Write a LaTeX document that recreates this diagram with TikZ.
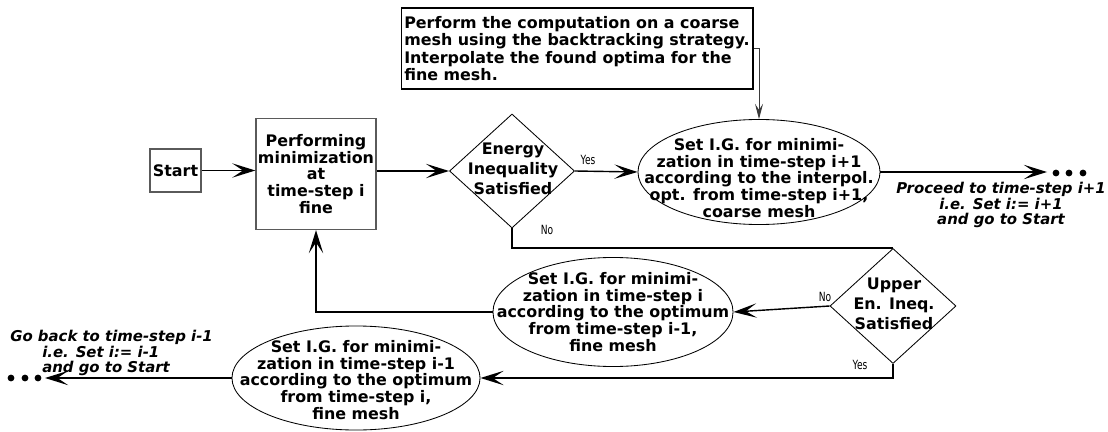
\documentclass[tikz,border=0pt]{standalone}
\usepackage{fontspec}
\setmainfont{DejaVu Sans}
\newfontfamily\narrowfont[FakeStretch=0.72]{DejaVu Sans}
\usetikzlibrary{shapes.geometric, arrows.meta, positioning}
\definecolor{FlowBlack}{HTML}{000000}
\definecolor{FlowGrey}{HTML}{5A5A5A}
\definecolor{FlowDark}{HTML}{3A3A3A}
\definecolor{FlowWhite}{HTML}{FFFFFF}
\tikzset{
    % Node styles
    stepbox/.style={
        rectangle,
        draw=FlowGrey,
        line width=0.9pt,
        inner sep=0pt,
        align=center,
        font=\bfseries\fontsize{11.3}{11.8}\selectfont
    },
    notebox/.style={
        rectangle,
        draw=FlowBlack,
        line width=0.8pt,
        inner sep=0.08cm,
        align=left,
        font=\bfseries\fontsize{11.3}{12.4}\selectfont
    },
    decision/.style={
        diamond,
        draw=FlowBlack,
        line width=0.6pt,
        inner sep=0pt
    },
    ovalbox/.style={
        ellipse,
        draw=FlowBlack,
        line width=0.6pt,
        inner sep=0pt
    },
    boxtext/.style={
        align=center,
        inner sep=0pt,
        font=\bfseries\fontsize{11.3}{11.8}\selectfont
    },
    asktext/.style={
        align=center,
        inner sep=0pt,
        font=\bfseries\fontsize{11.3}{14.2}\selectfont
    },
    gotext/.style={
        inner sep=0pt,
        font=\bfseries\itshape\fontsize{10.6}{11}\selectfont
    },
    answer/.style={
        inner sep=0pt,
        font=\narrowfont\fontsize{9}{9}\selectfont
    },
    % Arrow styles
    myarrow/.style={
        -{Stealth[length=0.58cm,width=0.36cm,inset=0.27cm]},
        line width=1pt,
        FlowBlack
    },
    thinarrow/.style={
        -{Stealth[length=0.38cm,width=0.2cm,inset=0.15cm]},
        line width=0.6pt,
        FlowDark
    },
    plainline/.style={
        line width=1pt,
        FlowBlack
    }
}
\begin{document}
\begin{tikzpicture}[x=0.025cm, y=-0.025cm]
    \useasboundingbox[fill=FlowWhite] (0,0) rectangle (1108,432);

    % Main line
    \node[stepbox, minimum width=1.275cm, minimum height=1.075cm] (start) at (175.5,170.5) {Start};
    \node[stepbox, minimum width=3cm, minimum height=2.775cm] (perf) at (316,174) {Performing\\minimization\\at\\time-step i\\fine};
    \node[decision, minimum width=3.125cm, minimum height=2.85cm] (energy) at (512,171) {};
    \node[asktext] (energytxt) at (513,169) {Energy\\Inequality\\Satisfied};
    \node[ovalbox, minimum width=6.05cm, minimum height=2.625cm] (fwd) at (759,172) {};
    \node[boxtext] (fwdtxt) at (759,178) {Set I.G. for minimi-\\zation in time-step i+1\\according to the interpol.\\opt. from time-step i+1,\\coarse mesh};

    % Coarse mesh box
    \node[notebox, minimum width=8.7cm, minimum height=2.025cm] (coarse) at (577,48.5) {Perform the computation on a coarse\\mesh using the backtracking strategy.\\Interpolate the found optima for the\\fine mesh.};

    % Second check and the two ways back
    \node[decision, minimum width=3.15cm, minimum height=2.875cm] (upper) at (893,306) {};
    \node[asktext] (uppertxt) at (894,304) {Upper\\En. Ineq.\\Satisfied};
    \node[ovalbox, minimum width=6cm, minimum height=2.725cm] (stay) at (613,312) {};
    \node[boxtext] (staytxt) at (613,312) {Set I.G. for minimi-\\zation in time-step i\\according to the optimum\\from time-step i-1,\\fine mesh};
    \node[ovalbox, minimum width=6.2cm, minimum height=2.6cm] (back) at (356,378) {};
    \node[boxtext] (backtxt) at (356,380) {Set I.G. for minimi-\\zation in time-step i-1\\according to the optimum\\from time-step i,\\fine mesh};

    % Loose ends
    \coordinate (ahead) at (1047,172);
    \coordinate (behind) at (45,378);
    \foreach \x in {1056,1069,1083} \fill[FlowBlack] (\x,173) circle (0.085cm);
    \foreach \x in {11,25,38} \fill[FlowBlack] (\x,378) circle (0.085cm);
    \node[gotext, align=center] (proceed) at (1001,205) {Proceed to time-step i+1\\i.e. Set i:= i+1\\and go to Start};
    \node[gotext, align=left, anchor=north west] (goback) at (10,330) {Go back to time-step i-1\\\hspace*{0.8cm}i.e. Set i:= i-1\\\hspace*{0.8cm}and go to Start};

    % Answers
    \node[answer] (yes1) at (588,160) {Yes};
    \node[answer] (no1) at (547,230) {No};
    \node[answer] (no2) at (825,297) {No};
    \node[answer] (yes2) at (860,365) {Yes};

    % Arrows
    \draw[myarrow] (start.east) -- (start.east -| perf.west);
    \draw[myarrow] (energy.west -| perf.east) -- (energy.west);
    \draw[myarrow] (energy.east) -- (fwd.west);
    \draw[thinarrow] (coarse.east) -| (fwd.north);
    \draw[myarrow] (fwd.east) -- (ahead);
    \draw[plainline] (energy.south) |- (upper.north);
    \draw[myarrow] (upper.west) -- (stay.east);
    \draw[myarrow] (stay.west) -| (perf.south);
    \draw[myarrow] (upper.south) |- (back.east);
    \draw[myarrow] (back.west) -- (behind);
\end{tikzpicture}
\end{document}
